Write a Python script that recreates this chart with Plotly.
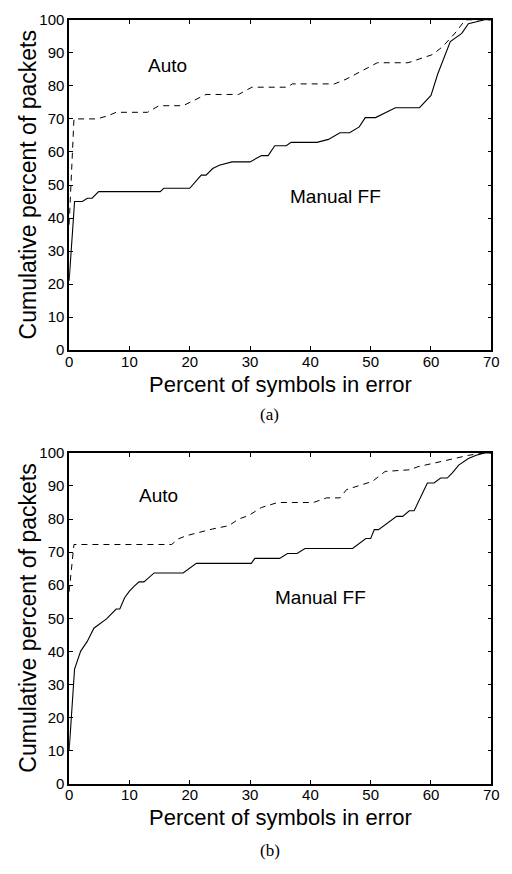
import plotly.graph_objects as go

# ---- data ----
# Panel (a)
a_auto_x = [0, 0.8, 4.6, 6.5, 7.8, 13, 14.9, 18.9, 22.7, 28.1, 30.3, 36.2, 37, 44, 45.9, 51.1, 56.2, 60.3, 62, 64, 65.7, 70]
a_auto_y = [38, 70, 70, 71, 72, 72, 74, 74, 77.4, 77.4, 79.6, 79.6, 80.6, 80.6, 82, 87, 87, 89.5, 92, 96, 100, 100]
a_man_x = [0, 0.9, 2.2, 3.0, 3.8, 4.9, 15.1, 15.7, 20, 21.9, 22.7, 23.8, 24.9, 27, 30, 31.9, 33, 34.1, 36, 36.8, 41.1, 43,
           44.9, 46.5, 48.1, 49.1, 50.8, 54.1, 58.1, 60, 61.1, 63.2, 65.1, 66.2, 68.9, 70]
a_man_y = [21, 45, 45, 46, 46, 48, 48, 49, 49, 53, 53, 55, 56, 57, 57, 58.9, 58.9, 61.9, 61.9, 62.9, 62.9, 63.8,
           65.8, 65.8, 67.6, 70.4, 70.4, 73.4, 73.4, 77.1, 83.5, 93.4, 95.9, 98.8, 100, 100]

# Panel (b)
b_auto_x = [0, 0.8, 17, 18.1, 19.5, 21.6, 23.8, 26.5, 28.1, 29.7, 31.9, 34.6, 40.5, 42.7, 44.9, 46, 47.6, 50.3, 52.4,
            56.5, 57.8, 60.4, 64.2, 66.3, 69, 70]
b_auto_y = [58, 72.3, 72.3, 74, 75, 76, 77, 78, 80, 81, 83.5, 85, 85, 86.4, 86.4, 88.9, 89.9, 91.4, 94.4,
            94.9, 95.8, 96.8, 98.3, 99.3, 100, 100]
b_man_x = [0, 0.9, 1.9, 3.0, 4.1, 5.4, 6.2, 7.8, 8.4, 9.2, 10, 10.8, 11.6, 12.4, 14.1, 18.9, 21.1, 30.2, 30.8, 34.9,
           36.2, 37.8, 39.1, 47, 49.2, 50, 50.6, 51.3, 54.3, 55.3, 56.4, 57.2, 59.4, 60.5, 61.6, 62.7, 63.5, 64.6,
           66.2, 67.5, 68.9, 70]
b_man_y = [10, 34.6, 40, 43, 47, 48.8, 49.8, 52.8, 52.8, 56.2, 58.2, 59.7, 61, 61, 63.7, 63.7, 66.6, 66.6, 68.1, 68.1,
           69.6, 69.6, 71.1, 71.1, 74.1, 74.1, 76.8, 76.8, 80.8, 80.8, 82.5, 82.5, 90.9, 90.9, 92.4, 92.4, 93.9, 96.3,
           98.3, 99.3, 100, 100]

x_ticks = [0, 10, 20, 30, 40, 50, 60, 70]
y_ticks = [0, 10, 20, 30, 40, 50, 60, 70, 80, 90, 100]
x_title = "Percent of symbols in error"
y_title = "Cumulative percent of packets"
panel_labels = ["(a)", "(b)"]
auto_label_pos = [(16.3, 86.2), (14.8, 87.2)]
manual_label_pos = [(44.1, 46.5), (41.6, 56.2)]

W, H = 512, 874
SANS = "Liberation Sans, Arial, sans-serif"
SERIF = "Liberation Serif, Times New Roman, serif"

fig = go.Figure()

dash_style = dict(color="black", width=1, dash="6px,5px")
solid_style = dict(color="black", width=1.1)

fig.add_trace(go.Scatter(x=a_auto_x, y=a_auto_y, mode="lines", line=dash_style, xaxis="x", yaxis="y", showlegend=False))
fig.add_trace(go.Scatter(x=a_man_x, y=a_man_y, mode="lines", line=solid_style, xaxis="x", yaxis="y", showlegend=False))
fig.add_trace(go.Scatter(x=b_auto_x, y=b_auto_y, mode="lines", line=dash_style, xaxis="x2", yaxis="y2", showlegend=False))
fig.add_trace(go.Scatter(x=b_man_x, y=b_man_y, mode="lines", line=solid_style, xaxis="x2", yaxis="y2", showlegend=False))

xdom = [66.7 / W, 499 / W]
ydom_a = [1 - 348 / H, 1 - 11 / H]
ydom_b = [1 - 790 / H, 1 - 452.7 / H]

axis_common = dict(showline=True, linecolor="black", linewidth=1.5, mirror="ticks", ticks="inside",
                   ticklen=4, tickwidth=1, tickcolor="black", showgrid=False, zeroline=False,
                   tickfont=dict(family=SANS, size=15, color="black"))

fig.update_layout(
    width=W, height=H,
    margin=dict(l=0, r=0, t=0, b=0),
    paper_bgcolor="white", plot_bgcolor="white",
    xaxis=dict(domain=xdom, range=[0, 70], tickvals=x_ticks, anchor="y", ticklabelstandoff=-3, **axis_common),
    yaxis=dict(domain=ydom_a, range=[0, 100], tickvals=y_ticks, anchor="x", **axis_common),
    xaxis2=dict(domain=xdom, range=[0, 70], tickvals=x_ticks, anchor="y2", ticklabelstandoff=-3, **axis_common),
    yaxis2=dict(domain=ydom_b, range=[0, 100], tickvals=y_ticks, anchor="x2", **axis_common),
)

annotations = []
for i, (xr, yr, ydom) in enumerate([("x", "y", ydom_a), ("x2", "y2", ydom_b)]):
    # data-label annotations
    annotations.append(dict(x=auto_label_pos[i][0], y=auto_label_pos[i][1], xref=xr, yref=yr, text="Auto",
                            showarrow=False, font=dict(family=SANS, size=19, color="black")))
    annotations.append(dict(x=manual_label_pos[i][0], y=manual_label_pos[i][1], xref=xr, yref=yr, text="Manual FF",
                            showarrow=False, font=dict(family=SANS, size=19, color="black")))
    # axis titles
    annotations.append(dict(x=(xdom[0] + xdom[1]) / 2, y=ydom[0], xref="paper", yref="paper", text=x_title,
                            showarrow=False, yanchor="middle", yshift=-34,
                            font=dict(family=SANS, size=22, color="black")))
    annotations.append(dict(x=25 / W, y=(ydom[0] + ydom[1]) / 2, xref="paper", yref="paper", text=y_title,
                            showarrow=False, textangle=-90, xanchor="center", yanchor="middle",
                            font=dict(family=SANS, size=23, color="black")))
    # panel label
    annotations.append(dict(x=272 / W, y=ydom[0], xref="paper", yref="paper", text=panel_labels[i],
                            showarrow=False, yanchor="middle", yshift=-64 if i == 0 else -67,
                            font=dict(family=SERIF, size=17, color="black")))

fig.update_layout(annotations=annotations)
fig.write_html("out.html")
